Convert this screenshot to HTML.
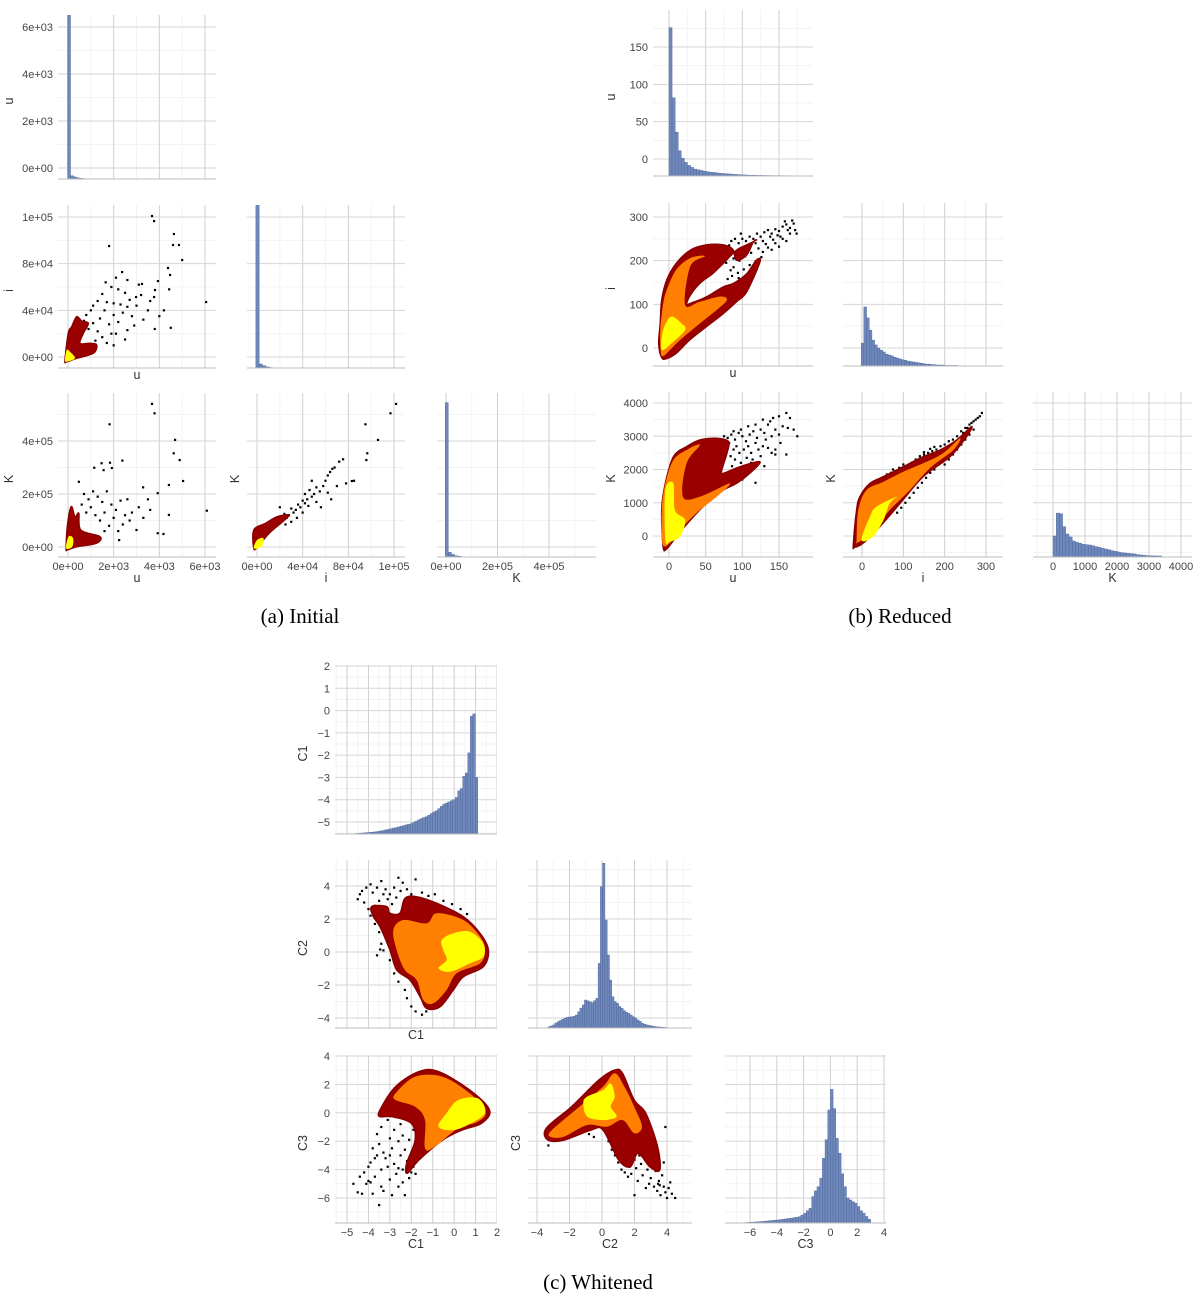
<!DOCTYPE html>
<html><head><meta charset="utf-8"><title>Pair plots</title>
<style>
html,body{margin:0;padding:0;background:#fff;}
svg{display:block;font-family:"Liberation Sans",sans-serif;}
.tick{font-size:11px;fill:#444;}
.ttl{font-size:12.5px;fill:#333;}
.cap{font-family:"Liberation Serif",serif;font-size:21px;fill:#000;}
</style></head>
<body>
<svg id="chart" width="1200" height="1294" viewBox="0 0 1200 1294" xmlns="http://www.w3.org/2000/svg">
<rect x="0" y="0" width="1200" height="1294" fill="#fff"/>
<defs id="defs"></defs>
<text class="cap" x="300" y="623" text-anchor="middle">(a) Initial</text>
<text class="cap" x="900" y="623" text-anchor="middle">(b) Reduced</text>
<text class="cap" x="598" y="1289" text-anchor="middle">(c) Whitened</text>
</svg>
<script>
// ---------- tick values & labels ----------
const uaTicks=[0,2000,4000,6000], uaLabels=["0e+00","2e+03","4e+03","6e+03"];
const iaTicks=[0,40000,80000,120000], iaLabels=["0e+00","4e+04","8e+04","1e+05"];
const KaTicks=[0,200000,400000], KaLabels=["0e+00","2e+05","4e+05"];
const ubTicks=[0,50,100,150], ubLabels=["0","50","100","150"];
const ibTicks=[0,100,200,300], ibLabels=["0","100","200","300"];
const KbTicks=[0,1000,2000,3000,4000], KbLabels=["0","1000","2000","3000","4000"];
const c1Ticks=[-5,-4,-3,-2,-1,0,1,2], c1Labels=["\u22125","\u22124","\u22123","\u22122","\u22121","0","1","2"];
const c2Ticks=[-4,-2,0,2,4], c2Labels=["\u22124","\u22122","0","2","4"];
const c3Ticks=[-6,-4,-2,0,2,4], c3Labels=["\u22126","\u22124","\u22122","0","2","4"];

// ---------- histogram data (bin start, width, bar tops in axis units) ----------
const histUaStart=-20, histUaWidth=130;
const histUa=[7000,-330,-380,-420,-440,-450,-455,-458,-460,-462,-463,-464,-464,-465,-465,-465,-465,-465,-466,-464,-466,-466,-466,-466,-466,-466,-466,-466,-466,-466,-466,-466,-466,-466,-466,-466,-466,-464,-466,-466];
const histIaStart=-1000, histIaWidth=2900;
const histIa=[130000,-6000,-7500,-8500,-9000,-9200,-9300,-9350,-9380];
const histKaStart=-3000, histKaWidth=12000;
const histKa=[545000,-20000,-28000,-33000,-35000,-36500,-37000,-37300];
const histUbStart=0, histUbWidth=4.2;
const histUb=[176,82,36,11,1,-4.5,-8.6,-11.3,-13.5,-14.4,-15.3,-16.2,-17.1,-17.6,-18,-18.5,-19,-19.4,-19.8,-20,-20.3,-20.6,-20.9,-21.1,-21.3,-21.5,-21.7,-21.8,-21.9,-22,-22,-22.1,-22.1,-22.2,-22.2,-22.2,-22.3,-22.3,-22.3,-22.3];
const histIbStart=-2, histIbWidth=6.5;
const histIb=[11,94,69,41,18,7,0,-5,-9,-14,-16,-18,-21,-23,-25,-27,-28,-30,-31,-32,-33,-34,-35,-36,-37,-37,-38,-38,-39,-39,-39,-40,-40,-40,-40,-40,-40.5,-40.5];
const histKbStart=0, histKbWidth=100;
const histKb=[0,690,670,280,60,-30,-150,-190,-220,-250,-260,-270,-290,-320,-340,-370,-390,-410,-440,-460,-480,-500,-510,-520,-530,-540,-560,-570,-580,-590,-595,-598,-600,-600];
const histC1Start=-4.63, histC1Width=0.117;
const histC1=[-5.52,-5.51,-5.5,-5.49,-5.48,-5.47,-5.46,-5.45,-5.44,-5.42,-5.4,-5.38,-5.35,-5.33,-5.3,-5.27,-5.25,-5.22,-5.19,-5.16,-5.13,-5.1,-5.07,-5.02,-4.96,-4.9,-4.85,-4.8,-4.76,-4.7,-4.62,-4.55,-4.5,-4.4,-4.3,-4.2,-4.15,-4.1,-4.05,-4.0,-3.9,-3.6,-3.5,-2.95,-2.8,-1.9,-0.25,-0.15,-3.0];
const histC2Start=-3.32, histC2Width=0.14;
const histC2=[-4.53,-4.48,-4.42,-4.3,-4.22,-4.15,-4.08,-4.0,-3.96,-3.94,-3.92,-3.9,-3.82,-3.62,-3.4,-3.21,-2.91,-2.96,-3.01,-3.07,-2.95,-2.81,-0.69,3.96,5.38,1.94,-0.18,-1.7,-2.71,-3.0,-3.11,-3.3,-3.41,-3.55,-3.65,-3.72,-3.82,-3.92,-4.0,-4.12,-4.2,-4.32,-4.38,-4.42,-4.45,-4.48,-4.5,-4.53,-4.54,-4.55,-4.56,-4.57];
const histC3Start=-6.8, histC3Width=0.2;
const histC3=[-7.75,-7.74,-7.73,-7.72,-7.71,-7.7,-7.68,-7.67,-7.66,-7.64,-7.62,-7.6,-7.58,-7.56,-7.55,-7.52,-7.5,-7.47,-7.44,-7.42,-7.38,-7.35,-7.32,-7.2,-7.08,-6.9,-6.73,-5.9,-5.5,-5.2,-4.6,-3.2,-1.9,0.2,1.65,0.3,-1.8,-2.85,-4.3,-5.2,-6.0,-6.14,-6.26,-6.37,-6.6,-6.9,-7.08,-7.3,-7.5,-7.74];

// ---------- scatter points (x, y) in data units ----------
const ptsAiu=[[3680,120800],[3770,116500],[4640,105400],[4600,96000],[4860,96000],[5000,83100],[1800,95100],[6050,47100],[4380,76300],[4470,70300],[2370,72800],[3940,65100],[3240,62600],[3810,57400],[3200,53100],[2980,51400],[3770,51400],[4430,58000],[2100,68000],[1650,64000],[1900,60000],[2200,58000],[2500,55000],[2700,49000],[1500,54000],[1300,48000],[1700,47000],[2000,46000],[2300,45000],[2600,43000],[3000,44000],[3500,40000],[4200,40000],[4500,25000],[3800,24000],[2900,27000],[2600,23000],[2100,20000],[1500,17000],[1200,14000],[1700,12000],[2000,10000],[2500,15000],[1800,28000],[1400,33000],[1000,40000],[800,36000],[1100,29000],[900,24000],[1300,22000],[2800,35000],[3300,32000],[4000,35000],[3600,48000],[1600,40000],[2000,36000],[2400,38000],[700,31000],[1900,20000],[2200,30000],[1100,44000],[3100,62000],[2600,66000]];
const ptsAKu=[[3680,540000],[3790,504600],[1820,463000],[4690,404000],[4630,353600],[4890,328000],[6080,137000],[5040,249000],[1470,316000],[1840,318000],[2380,326000],[1560,290000],[1920,298000],[1150,299000],[475,246000],[3930,203000],[3290,225000],[4420,234000],[4420,121000],[3930,52000],[4180,49000],[3000,64000],[2240,26000],[700,200000],[900,180000],[1100,210000],[1300,190000],[1500,170000],[1700,210000],[1900,160000],[2100,140000],[2300,175000],[2500,120000],[2700,100000],[3100,150000],[3500,180000],[1000,150000],[1200,120000],[1400,100000],[1600,130000],[1800,80000],[2000,110000],[2200,60000],[2400,85000],[2800,130000],[3300,110000],[800,130000],[600,160000],[1600,60000],[3600,140000],[2600,180000]];
const ptsAKi=[[121800,540000],[116900,504600],[95000,463000],[106000,404000],[96600,353600],[95800,328000],[83100,249000],[75400,331000],[72000,322000],[66000,295000],[64000,283000],[68000,300000],[62000,270000],[60000,250000],[58000,230000],[55000,210000],[52000,225000],[50000,200000],[48000,190000],[46000,215000],[44000,180000],[42000,165000],[40000,175000],[38000,150000],[36000,160000],[34000,140000],[32000,130000],[30000,145000],[28000,120000],[26000,110000],[24000,125000],[22000,100000],[20000,90000],[18000,105000],[16000,80000],[35000,110000],[45000,155000],[52000,170000],[56000,150000],[62000,205000],[70000,230000],[78000,240000],[40000,130000],[30000,95000],[25000,85000],[48000,250000],[42000,200000],[65000,180000],[20000,150000],[14000,70000],[85000,250000]];
const ptsBiu=[[95,240],[100,250],[105,245],[110,255],[115,250],[120,262],[125,255],[130,265],[135,270],[140,262],[145,272],[150,268],[155,278],[160,283],[165,275],[170,285],[158,290],[162,270],[148,258],[138,255],[128,245],[118,240],[108,232],[100,225],[92,215],[88,205],[96,200],[104,210],[112,218],[122,228],[132,238],[142,248],[152,255],[174,262],[168,292],[126,208],[118,198],[110,190],[102,180],[94,172],[86,165],[80,158],[88,185],[76,225],[82,235],[70,210],[78,195],[84,178],[95,160],[100,150],[108,168],[114,175],[120,195],[135,230],[145,240],[155,250],[128,220],[140,225],[150,232],[165,262],[172,270],[85,245],[90,250],[98,262],[160,245]];
const ptsBKu=[[75,3000],[80,2950],[85,3050],[90,2900],[95,3100],[100,3000],[105,2850],[110,3050],[115,3150],[120,2950],[125,3200],[130,3100],[135,3350],[140,3000],[145,3200],[150,3050],[155,3300],[160,3700],[165,3550],[170,3200],[175,3000],[162,3250],[152,2800],[145,2600],[140,2500],[135,2650],[128,2700],[122,2600],[118,2800],[112,2500],[108,2700],[102,2600],[96,2500],[92,2700],[88,2600],[84,2400],[90,2300],[98,2200],[106,2350],[114,2300],[125,2400],[132,2900],[138,3450],[128,3500],[118,3350],[108,3300],[98,3200],[88,3150],[82,2800],[78,2600],[86,2100],[94,2000],[104,1900],[118,1600],[130,2100],[145,2450],[160,2450],[100,1700],[92,1800],[150,3600],[142,3550],[112,2200],[120,2150]];
const ptsBKi=[[70,1900],[80,1950],[90,2050],[100,2150],[110,2100],[120,2200],[130,2300],[140,2400],[150,2450],[160,2500],[170,2550],[180,2600],[190,2700],[200,2750],[210,2850],[220,2900],[230,3000],[240,3150],[250,3250],[260,3350],[270,3450],[280,3550],[290,3700],[285,3600],[275,3500],[265,3400],[255,3250],[245,3100],[235,2900],[225,2750],[215,2550],[205,2400],[195,2250],[185,2150],[175,2000],[165,1900],[155,1750],[145,1600],[135,1450],[125,1300],[115,1150],[105,1000],[95,850],[85,700],[165,2620],[175,2680],[150,2520],[120,2150],[60,1850],[75,2000],[200,2150],[210,2300],[220,2450],[230,2600],[240,2750],[250,2900],[260,3050],[270,3200]];
const ptsC21=[[-4.5,3.2],[-4.3,3.7],[-4.1,3.9],[-3.9,4.1],[-3.8,3.6],[-3.6,3.9],[-3.4,4.3],[-3.2,3.8],[-3,3.5],[-2.8,3.9],[-2.6,4.5],[-2.4,4.2],[-2.2,3.8],[-2,3.5],[-1.8,4.4],[-1.5,3.6],[-1.2,3.4],[-0.9,3.5],[-0.5,3.1],[-0.1,2.9],[0.3,2.6],[0.6,2.3],[-4.2,3.0],[-4,2.6],[-3.9,2.2],[-3.7,1.7],[-3.5,1.2],[-3.4,0.5],[-3.3,0.1],[-3.0,-0.5],[-2.8,-1.3],[-2.6,-1.8],[-2.3,-2.3],[-2.2,-2.8],[-2.0,-3.3],[-1.8,-3.6],[-1.5,-3.8],[-1.3,-3.6],[-3.7,2.8],[-3.5,3.1],[-3.1,3.2],[-2.7,3.3],[-2.5,3.7],[-2.9,2.9],[-4.4,3.5],[-3.3,3.5],[-3.6,-0.2],[-3.45,0.15]];
const ptsC31=[[-4.7,-5],[-4.5,-5.6],[-4.3,-5.7],[-4.2,-4.2],[-4.0,-4.8],[-3.9,-3.5],[-3.8,-5.7],[-3.7,-4.5],[-3.6,-3.0],[-3.5,-2.2],[-3.5,-6.5],[-3.4,-1.0],[-3.4,-4.0],[-3.3,-5.5],[-3.2,-3.2],[-3.1,-0.5],[-3.0,-1.8],[-3.0,-4.7],[-2.9,-2.5],[-2.9,-5.8],[-2.8,-3.6],[-2.8,-1.2],[-2.7,-0.3],[-2.7,-4.3],[-2.6,-2.0],[-2.6,-5.2],[-2.5,-3.0],[-2.5,-0.8],[-2.4,-4.0],[-2.4,-1.6],[-2.3,-2.6],[-2.3,-5.8],[-2.2,-3.4],[-2.2,-0.5],[-2.1,-1.9],[-2.1,-4.6],[-2.0,-2.8],[-1.9,-3.8],[-1.9,-1.2],[-3.6,-1.5],[-3.8,-2.5],[-4.0,-3.8],[-4.1,-5.0],[-3.3,-2.8],[-3.1,-3.8],[-3.2,0.0],[-2.9,0.1],[-3.5,-0.2],[-4.4,-4.5],[-3.7,-3.2],[-3.0,-3.0],[-2.6,-3.9],[-2.4,-4.9],[-1.8,-4.3],[-2.0,-4.2],[-3.9,-4.9],[-3.4,-5.2]];
const ptsC32=[[0.4,-2.0],[0.6,-2.6],[0.8,-3.0],[1.0,-3.5],[1.2,-4.0],[1.4,-4.2],[1.5,-3.5],[1.6,-4.5],[1.8,-4.3],[1.9,-2.8],[2.0,-3.3],[2.0,-5.8],[2.1,-3.9],[2.2,-4.8],[2.3,-3.0],[2.4,-3.6],[2.5,-4.4],[2.6,-2.6],[2.8,-4.0],[2.9,-5.0],[3.0,-4.6],[3.2,-5.2],[3.3,-4.1],[3.4,-5.5],[3.5,-4.8],[3.6,-5.8],[3.7,-4.4],[3.8,-5.2],[3.9,-5.6],[4.0,-6.0],[4.1,-5.3],[4.2,-4.9],[4.3,-5.7],[4.5,-6.0],[3.9,-1.0],[3.8,-3.5],[-0.8,-1.5],[-0.5,-1.7],[-3.3,-2.3],[1.7,-3.8],[2.7,-5.3],[1.3,-3.0],[0.9,-2.4],[3.1,-2.8],[3.45,-5.0],[3.55,-5.1]];

// ---------- density contour regions (outer, middle, inner) in data units ----------
const denAiuOuter=[[-131,-2571],[15,20570],[161,25970],[380,34540],[599,30830],[890,28880],[672,20310],[526,11740],[964,11740],[1256,10280],[1109,3170],[380,-1140],[-58,-4000]];
const denAiuInner=[[-131,-2571],[-58,6000],[88,4540],[307,-1140],[-58,-4000]];
const denAKuOuter=[[-79,-5000],[-31,76600],[140,152000],[307,114000],[475,127000],[560,64000],[1402,39000],[1235,14000],[390,1000],[-31,-11000]];
const denAKuInner=[[-79,-5000],[20,39000],[220,34000],[190,1000]];
const denAKiOuter=[[-2800,-5000],[-2800,64000],[7360,89000],[17400,114000],[27600,121000],[24200,102000],[10700,52000],[600,1000]];
const denAKiInner=[[-2800,-5000],[0,26000],[5700,33000],[3900,1000]];
const denBiuOuter=[[-14,10],[-10,-22],[-3,-24],[10,-12],[28,18],[51,49],[74,79],[92,106],[106,129],[124,197],[119,201],[106,170],[88,148],[74,140],[51,117],[29,102],[24,99],[28,118],[42,148],[60,171],[74,194],[92,224],[106,236],[119,247],[115,243],[106,213],[92,201],[87,226],[74,236],[51,236],[29,224],[10,194],[-3,156],[-10,110],[-12,56]];
const denBiuMid=[[-11,-12],[-12,40],[-8,100],[-3,133],[10,179],[29,206],[49,210],[29,187],[22,99],[42,106],[70,118],[79,110],[65,87],[42,56],[15,18],[-3,-12],[-8,-18]];
const denBiuInner=[[-10,-4],[-8,41],[3,72],[17,56],[22,41],[3,10]];
const denBKuOuter=[[-8,-321],[-10,780],[-5,1582],[6,2384],[24,2688],[42,2888],[65,2938],[81,2838],[79,2486],[72,1985],[74,1885],[97,2085],[124,2236],[110,1885],[92,1582],[74,1381],[51,980],[29,479],[10,-18],[-3,-384]];
const denBKuMid=[[-9,-220],[-10,780],[-5,1582],[6,2285],[24,2587],[42,2738],[24,2186],[19,1181],[42,1181],[83,1582],[65,1181],[42,780],[19,279],[1,-220]];
const denBKuInner=[[-5,-120],[-5,1381],[6,1582],[8,780],[22,479],[15,-18],[1,-170]];
const denBKiOuter=[[-21,-271],[-13,780],[-5,1181],[19,1582],[52,1785],[100,2085],[148,2386],[189,2587],[229,2888],[265,3289],[253,2988],[213,2386],[148,1785],[92,980],[43,279],[2,-220],[-18,-341]];
const denBKiMid=[[-13,-120],[-9,780],[11,1381],[52,1632],[100,1935],[148,2185],[196,2486],[237,2938],[221,2587],[164,2035],[116,1381],[67,780],[19,80],[-13,-220]];
const denBKiInner=[[-1,-120],[19,580],[35,880],[84,1181],[67,980],[52,479],[27,-18]];
const denC21Outer=[[-3.85,2.75],[-3.15,2.75],[-3.0,2.35],[-2.53,2.35],[-2.3,3.25],[-1.75,3.35],[-0.81,2.95],[0.43,2.14],[1.21,1.13],[1.6,0.12],[1.36,-0.89],[0.43,-1.5],[-0.04,-2.3],[-0.66,-3.32],[-1.28,-3.42],[-1.59,-2.71],[-2.06,-1.7],[-2.68,-1.09],[-3.0,0.12],[-3.46,1.53],[-3.77,2.14]];
const denC21Mid=[[-2.84,1.33],[-2.37,1.94],[-1.28,1.74],[-0.81,2.35],[0.43,1.94],[1.21,0.93],[1.44,0.12],[1.21,-0.69],[0.12,-1.29],[-0.35,-2.3],[-0.97,-3.11],[-1.44,-2.91],[-1.75,-1.7],[-2.3,-1.09],[-2.68,0.12]];
const denC21Inner=[[-0.58,0.73],[-0.04,1.13],[0.74,1.23],[1.36,0.52],[1.36,-0.29],[0.74,-0.69],[-0.19,-1.2],[-0.73,-0.99],[-0.35,-0.48],[-0.51,0.12]];
const denC31Outer=[[-3.46,0.2],[-2.73,1.84],[-1.64,2.9],[-0.73,2.9],[0.73,1.6],[1.65,0.2],[1.28,-0.74],[0.37,-1.21],[-0.54,-1.92],[-1.64,-3.32],[-2.19,-4.26],[-2.22,-3.56],[-1.82,-1.92],[-2.0,-0.74],[-2.91,-0.27],[-3.46,-0.27]];
const denC31Mid=[[-2.73,1.37],[-1.82,2.54],[-0.54,2.54],[0.73,1.37],[1.46,0.08],[1.1,-0.63],[0.19,-1.09],[-0.91,-2.39],[-1.36,-2.5],[-1.36,-0.51],[-1.82,0.43],[-2.73,0.9]];
const denC31Inner=[[-0.36,-0.04],[0.19,0.9],[1.1,1.02],[1.46,0.08],[0.92,-0.63],[0.0,-1.21],[-0.73,-0.98]];
const denC32Outer=[[-3.32,-1.92],[-3.43,-1.09],[-1.87,0.43],[-0.19,2.31],[0.78,3.01],[1.26,2.78],[1.98,0.9],[2.7,-0.04],[3.42,-2.39],[3.55,-4.03],[2.94,-3.8],[2.22,-2.85],[1.74,-3.8],[1.02,-3.32],[0.06,-1.21],[-0.67,-1.21],[-2.35,-1.92]];
const denC32Mid=[[-3.19,-1.68],[-3.08,-1.21],[-1.39,0.43],[0.06,1.84],[0.78,2.78],[1.38,1.84],[1.98,0.43],[2.46,-0.98],[1.98,-1.44],[1.26,-0.51],[0.3,-0.98],[-0.91,-0.86],[-2.35,-1.68]];
const denC32Inner=[[-1.15,0.67],[-0.91,1.14],[0.06,1.6],[0.54,2.07],[0.78,1.14],[0.54,0.43],[0.9,-0.27],[0.06,-0.51],[-0.91,-0.27]];

// ---------- rendering ----------
const NS='http://www.w3.org/2000/svg';
const svg=document.getElementById('chart');
const defs=document.getElementById('defs');
function mk(tag,name,attrs,parent){
  const el=document.createElementNS(NS,tag);
  
  
  for(const k in attrs) el.setAttribute(k,attrs[k]);
  (parent||svg).appendChild(el);
  return el;
}
function lin(p0,v0,p1,v1){return v=>p0+(v-v0)*(p1-p0)/(v1-v0);}
function axis(ticks,labels,x,y){return {ticks,labels,x,y};}
const AX={
  ua:axis(uaTicks,uaLabels,lin(68,0,205,6000),lin(168,0,27,6000)),
  ia:axis(iaTicks,iaLabels,lin(257,0,394,120000),lin(357,0,217,120000)),
  Ka:axis(KaTicks,KaLabels,lin(446,0,549,400000),lin(547,0,441,400000)),
  ub:axis(ubTicks,ubLabels,lin(669,0,779,150),lin(159,0,47,150)),
  ib:axis(ibTicks,ibLabels,lin(862,0,986,300),lin(348,0,217,300)),
  Kb:axis(KbTicks,KbLabels,lin(1053,0,1181,4000),lin(536,0,403,4000)),
  c1:axis(c1Ticks,c1Labels,lin(347,-5,497,2),lin(666,2,822,-5)),
  c2:axis(c2Ticks,c2Labels,lin(537,-4,667,4),lin(886,4,1018,-4)),
  c3:axis(c3Ticks,c3Labels,lin(750,-6,884,4),lin(1056,4,1198,-6))
};
function minors(t){
  const s=t[1]-t[0], out=[t[0]-s/2];
  t.forEach(v=>out.push(v+s/2));
  return out;
}
let pid=0;
function panel(name,box,xa,ya){
  const [x0,y0,x1,y1]=box;
  pid++;
  const cp=mk('clipPath','panel-clip',{id:'cp'+pid},defs);
  mk('rect','panel-clip-rect',{x:x0,y:y0,width:x1-x0,height:y1-y0},cp);
  const g=mk('g',name,{'clip-path':'url(#cp'+pid+')'});
  minors(xa.ticks).forEach(v=>{const x=xa.x(v);
    mk('line','minor-gridline-x',{x1:x,x2:x,y1:y0,y2:y1,stroke:'#f3f3f3','stroke-width':1},g);});
  minors(ya.ticks).forEach(v=>{const y=ya.y(v);
    mk('line','minor-gridline-y',{x1:x0,x2:x1,y1:y,y2:y,stroke:'#f3f3f3','stroke-width':1},g);});
  xa.ticks.forEach(v=>{const x=xa.x(v);
    mk('line','gridline-x',{x1:x,x2:x,y1:y0,y2:y1,stroke:'#cfcfcf','stroke-width':1},g);});
  ya.ticks.forEach(v=>{const y=ya.y(v);
    mk('line','gridline-y',{x1:x0,x2:x1,y1:y,y2:y,stroke:'#d6d6d6','stroke-width':1},g);});
  return g;
}
function axisLine(box){
  mk('line','x-axis-line',{x1:box[0],x2:box[2],y1:box[3],y2:box[3],stroke:'#bdbdbd','stroke-width':1});
}
function yTickLabels(box,ya){
  ya.ticks.forEach((v,i)=>{
    const t=mk('text','y-tick-label',{x:box[0]-5,y:ya.y(v)+4,'text-anchor':'end','class':'tick'});
    t.textContent=ya.labels[i];
  });
}
function xTickLabels(box,xa){
  xa.ticks.forEach((v,i)=>{
    const t=mk('text','x-tick-label',{x:xa.x(v),y:box[3]+13,'text-anchor':'middle','class':'tick'});
    t.textContent=xa.labels[i];
  });
}
function yTitle(x,y,s){
  const t=mk('text','y-axis-title',{x:x,y:y,'text-anchor':'middle','class':'ttl',transform:'rotate(-90 '+x+' '+y+')'});
  t.textContent=s;
}
function xTitle(x,y,s){
  const t=mk('text','x-axis-title',{x:x,y:y,'text-anchor':'middle','class':'ttl'});
  t.textContent=s;
}
function hist(g,box,xa,ya,start,w,tops){
  tops.forEach((v,i)=>{
    const xl=xa.x(start+i*w), xr=xa.x(start+(i+1)*w), y=Math.max(ya.y(v),box[1]-2);
    if(y>=box[3]) return;
    mk('rect','histogram-bar',{x:xl,y:y,width:Math.max(xr-xl,0.8),height:box[3]-y+2,fill:'#6f88bb',stroke:'#4b6396','stroke-width':0.4},g);
  });
}
function scatter(g,xa,ya,pts){
  pts.forEach(p=>{
    mk('rect','scatter-point',{x:xa.x(p[0])-1.1,y:ya.y(p[1])-1.1,width:2.2,height:2.2,fill:'#000'},g);
  });
}
function smoothPath(pts){
  const n=pts.length;let d='M'+pts[0][0].toFixed(1)+','+pts[0][1].toFixed(1);
  for(let i=0;i<n;i++){
    const p0=pts[(i-1+n)%n],p1=pts[i],p2=pts[(i+1)%n],p3=pts[(i+2)%n];
    const c1=[p1[0]+(p2[0]-p0[0])/6,p1[1]+(p2[1]-p0[1])/6];
    const c2=[p2[0]-(p3[0]-p1[0])/6,p2[1]-(p3[1]-p1[1])/6];
    d+='C'+c1[0].toFixed(1)+','+c1[1].toFixed(1)+' '+c2[0].toFixed(1)+','+c2[1].toFixed(1)+' '+p2[0].toFixed(1)+','+p2[1].toFixed(1);
  }
  return d+'Z';
}
function density(g,xa,ya,levels){
  const fills=['#9a0000','#ff8000','#ffff00'];
  const names=['density-outer-level','density-middle-level','density-inner-level'];
  levels.forEach((poly,k)=>{
    if(!poly) return;
    const px=poly.map(p=>[xa.x(p[0]),ya.y(p[1])]);
    mk('path',names[k],{d:smoothPath(px),fill:fills[k],stroke:k===0?'#8a0000':'none','stroke-width':k===0?1.5:0,'stroke-linejoin':'round'},g);
  });
}

function figure(cfg){
  const A=cfg.axes, C=cfg.cols, R=cfg.rows, T=cfg.titles;
  const box=(r,c)=>[C[c][0],R[r][0],C[c][1],R[r][1]];
  for(let k=0;k<3;k++){
    const b=box(k,k);
    const g=panel(cfg.tag+'-hist-'+T[k],b,A[k],A[k]);
    const h=cfg.hists[k];
    hist(g,b,A[k],A[k],h[0],h[1],h[2]);
    axisLine(b);
  }
  [[1,0],[2,0],[2,1]].forEach(([r,c])=>{
    const b=box(r,c);
    const g=panel(cfg.tag+'-scatter-'+T[r]+'-vs-'+T[c],b,A[c],A[r]);
    scatter(g,A[c],A[r],cfg.pts[''+r+c]);
    density(g,A[c],A[r],cfg.den[''+r+c]);
    axisLine(b);
  });
  for(let r=0;r<3;r++){ yTickLabels(box(r,0),A[r]); yTitle(C[0][0]-cfg.yOff,(R[r][0]+R[r][1])/2+4,T[r]); }
  for(let c=0;c<3;c++){ const b=box(2,c); xTickLabels(b,A[c]); xTitle((C[c][0]+C[c][1])/2,b[3]+25,T[c]); }
  xTitle((C[0][0]+C[0][1])/2,R[1][1]+11,T[0]);
  yTitle(C[1][0]-cfg.y2Off,(R[2][0]+R[2][1])/2+4,T[2]);
}

figure({tag:'initial',axes:[AX.ua,AX.ia,AX.Ka],titles:['u','i','K'],
  cols:[[58,216],[247,405],[437,596]],rows:[[15,179],[205,368],[393,557]],yOff:45,y2Off:8,
  hists:[[histUaStart,histUaWidth,histUa],[histIaStart,histIaWidth,histIa],[histKaStart,histKaWidth,histKa]],
  pts:{'10':ptsAiu,'20':ptsAKu,'21':ptsAKi},
  den:{'10':[denAiuOuter,null,denAiuInner],'20':[denAKuOuter,null,denAKuInner],'21':[denAKiOuter,null,denAKiInner]}});
figure({tag:'reduced',axes:[AX.ub,AX.ib,AX.Kb],titles:['u','i','K'],
  cols:[[653,813],[843,1003],[1033,1192]],rows:[[10,176],[203,366],[392,557]],yOff:38,y2Off:8,
  hists:[[histUbStart,histUbWidth,histUb],[histIbStart,histIbWidth,histIb],[histKbStart,histKbWidth,histKb]],
  pts:{'10':ptsBiu,'20':ptsBKu,'21':ptsBKi},
  den:{'10':[denBiuOuter,denBiuMid,denBiuInner],'20':[denBKuOuter,denBKuMid,denBKuInner],'21':[denBKiOuter,denBKiMid,denBKiInner]}});
figure({tag:'whitened',axes:[AX.c1,AX.c2,AX.c3],titles:['C1','C2','C3'],
  cols:[[335,497],[528,692],[725,886]],rows:[[665,834],[860,1028],[1055,1223]],yOff:28,y2Off:8,
  hists:[[histC1Start,histC1Width,histC1],[histC2Start,histC2Width,histC2],[histC3Start,histC3Width,histC3]],
  pts:{'10':ptsC21,'20':ptsC31,'21':ptsC32},
  den:{'10':[denC21Outer,denC21Mid,denC21Inner],'20':[denC31Outer,denC31Mid,denC31Inner],'21':[denC32Outer,denC32Mid,denC32Inner]}});
</script>
</body></html>
